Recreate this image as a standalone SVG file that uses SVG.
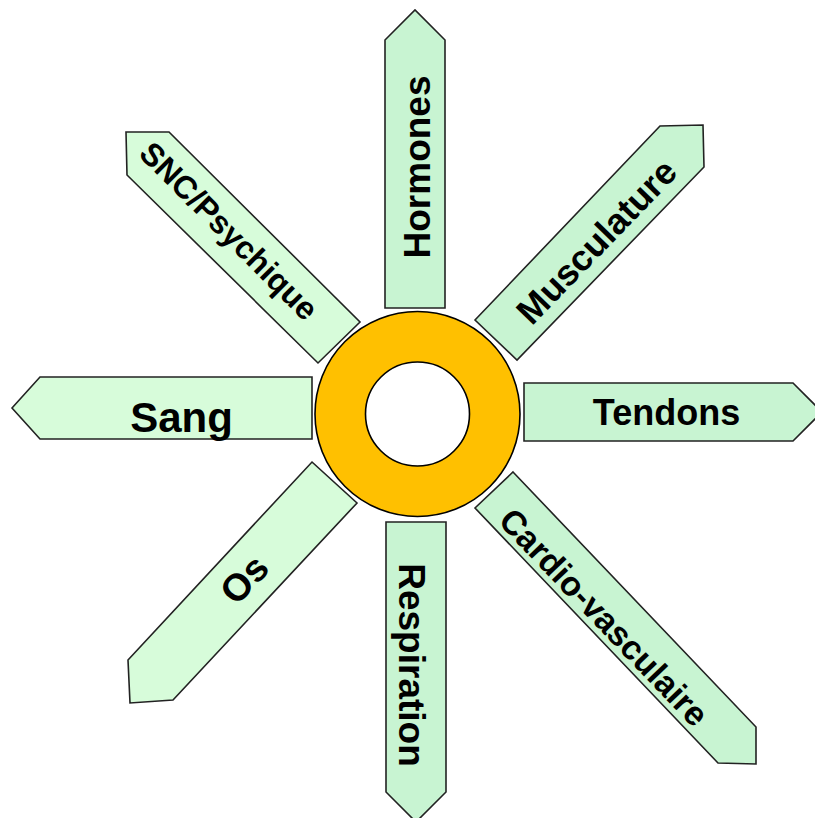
<svg xmlns="http://www.w3.org/2000/svg" width="815" height="818" viewBox="0 0 815 818">
<style>
.arrow{stroke:#222;stroke-width:1.6;stroke-linejoin:miter}
.dark{fill:#C8F4D2}
.light{fill:#D7FCDA}
.lbl{font-family:"Liberation Sans",Arial,sans-serif;font-weight:bold;fill:#000;text-anchor:middle}
</style>
<rect width="815" height="818" fill="#fff"/>
<g id="hormones">
<polygon class="arrow dark" points="385,308 385,40 415,10 445,40 445,308"/>
<text class="lbl" font-size="37" transform="translate(416.5,167) rotate(-90)" y="13">Hormones</text>
</g>
<g id="musculature">
<polygon class="arrow dark" points="475,320 660,126 703,125 704,167 517,360"/>
<text class="lbl" font-size="36" transform="translate(596.5,241.5) rotate(-46)" y="12.5">Musculature</text>
</g>
<g id="snc">
<polygon class="arrow light" points="126,132 169,132 360,322 318,363 127,175"/>
<text class="lbl" font-size="32" transform="translate(229,231) rotate(45)" y="11">SNC/Psychique</text>
</g>
<g id="sang">
<polygon class="arrow light" points="12,408 40,377 312,377 312,439 40,439"/>
<text class="lbl" font-size="42" x="181.5" y="432">Sang</text>
</g>
<g id="tendons">
<polygon class="arrow dark" points="524,383 793,383 822,412 793,441 524,441"/>
<text class="lbl" font-size="36" x="666.5" y="425">Tendons</text>
</g>
<g id="os">
<polygon class="arrow light" points="312,462 357,503 173,700 130,703 128,660"/>
<text class="lbl" font-size="38" transform="translate(244,579) rotate(-47)" y="13.5">Os</text>
</g>
<g id="respiration">
<polygon class="arrow dark" points="386,522 446,522 446,792 416,822 386,792"/>
<text class="lbl" font-size="37" transform="translate(412,665) rotate(90)" y="13">Respiration</text>
</g>
<g id="cardio">
<polygon class="arrow dark" points="513,472 756,727 756,764 718,763 475,508"/>
<text class="lbl" font-size="34" transform="translate(604,617) rotate(46.4)" y="12">Cardio-vasculaire</text>
</g>
<g id="centre">
<circle cx="417.5" cy="414" r="102.5" fill="#FFC000" stroke="#000" stroke-width="1.6"/>
<circle cx="417.5" cy="414" r="52" fill="#fff" stroke="#000" stroke-width="1.6"/>
</g>
</svg>
